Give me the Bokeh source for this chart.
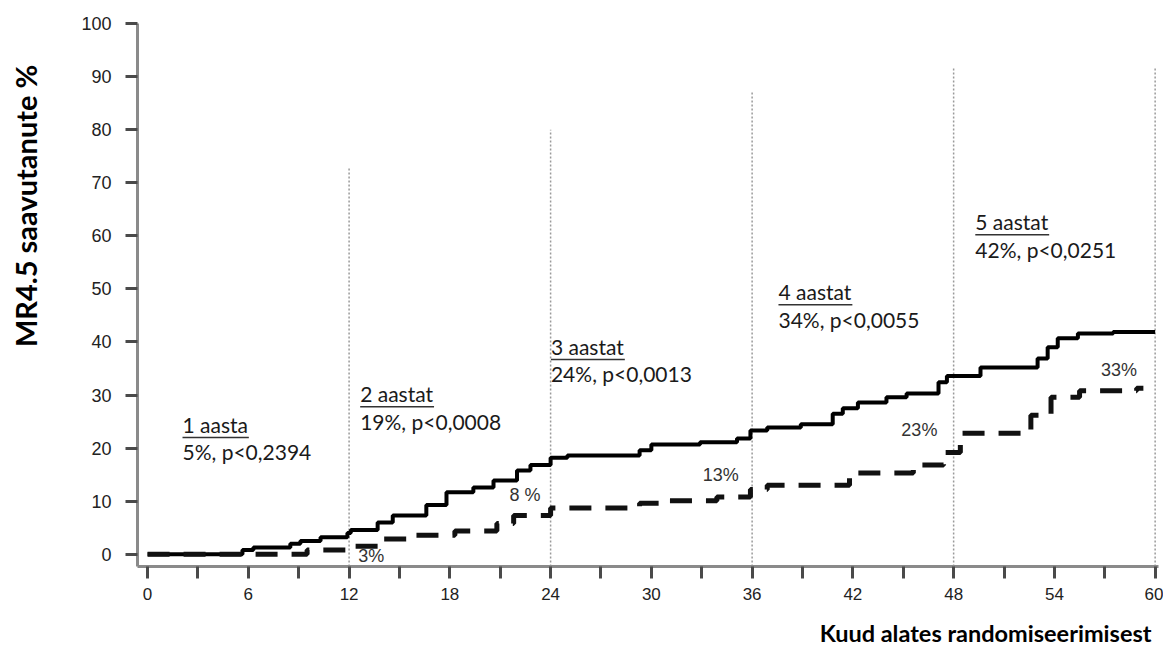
import math
from bokeh.plotting import figure
from bokeh.layouts import row
from bokeh.models import Range1d, FixedTicker, Label, ColumnDataSource, Title
from bokeh.core.properties import value
from bokeh.embed import file_html
from bokeh.resources import INLINE

# Cumulative MR4.5 response (%) by months since randomisation, step curves
solid_t = [0, 5.65, 6.3, 8.5, 9.1, 10.3, 11.9, 12.1, 13.7, 14.6, 16.6, 17.8, 19.4,
           20.6, 22.0, 22.8, 24.0, 25.0, 29.3, 30.0, 32.9, 35.1, 35.9, 36.9, 38.9,
           40.8, 41.4, 42.3, 44.0, 45.2, 47.1, 47.6, 49.6, 53.0, 53.6, 54.2, 55.4,
           57.5, 60.0]
solid_v = [0, 0.8, 1.3, 2.0, 2.5, 3.2, 4.0, 4.6, 6.0, 7.3, 9.3, 11.7, 12.6,
           13.9, 15.8, 16.8, 18.2, 18.6, 19.6, 20.7, 21.1, 21.8, 23.3, 23.9, 24.5,
           26.5, 27.5, 28.6, 29.6, 30.3, 32.4, 33.6, 35.2, 36.9, 39.0, 40.7, 41.6,
           41.9, 41.9]

dashed_t = [0, 9.5, 12.0, 13.8, 15.8, 18.3, 20.8, 21.8, 24.0, 29.3, 30.7, 33.9,
            35.9, 36.9, 41.8, 45.6, 47.4, 48.4, 52.6, 53.8, 55.5, 58.9, 59.3]
dashed_v = [0, 0.8, 1.5, 2.9, 3.6, 4.4, 5.8, 7.3, 8.7, 9.6, 10.1, 10.8,
            12.2, 13.0, 15.3, 16.8, 19.2, 22.8, 26.2, 29.6, 30.8, 31.3, 31.3]

# Yearly reference lines
year_marks = [12, 24, 36, 48, 60]
year_line_top = [73, 80, 87, 91.5, 91.5]

# Yearly summary boxes
year_titles = ["1 aasta", "2 aastat", "3 aastat", "4 aastat", "5 aastat"]
year_stats = ["5%, p<0,2394", "19%, p<0,0008", "24%, p<0,0013",
              "34%, p<0,0055", "42%, p<0,0251"]
year_text_x = [2.08, 12.66, 24.02, 37.57, 49.29]
year_text_y = [24.5, 30.3, 39.2, 49.5, 62.7]
underline_len = [3.95, 4.4, 4.4, 4.4, 4.4]

# Comparator values at each year
comp_labels = ["3%", "8 %", "13%", "23%", "33%"]
comp_x = [13.32, 22.47, 34.13, 45.96, 57.85]
comp_y = [-0.4, 11.1, 14.9, 23.4, 34.7]

x_ticks = list(range(0, 61, 3))
y_ticks = list(range(0, 101, 10))

TITLE_W = 50

# narrow strip holding the vertical y-axis title
yt = figure(width=TITLE_W, height=650, output_backend="svg", toolbar_location=None,
            x_range=Range1d(0, TITLE_W), y_range=Range1d(0, 650),
            x_axis_location=None, y_axis_location=None, min_border=0)
yt.outline_line_color = None
yt.grid.visible = False
yt.add_layout(Label(x=25, y=425, text="MR4.5 saavutanute %", angle=math.pi / 2,
                    text_font="Lato", text_font_style="bold", text_font_size="29px",
                    text_align="center", text_baseline="middle", text_color="black"))

p = figure(width=1163 - TITLE_W, height=666, output_backend="svg",
           toolbar_location=None,
           x_range=Range1d(-0.6, 60.2), y_range=Range1d(-2.3, 100),
           min_border_left=137 - TITLE_W, min_border_right=5, min_border_top=23,
           min_border_bottom=100)
p.outline_line_color = None
p.grid.visible = False
p.background_fill_color = "white"
p.border_fill_color = "white"

for ax in (p.xaxis[0], p.yaxis[0]):
    ax.axis_line_color = "#8a8a8a"
    ax.axis_line_width = 3
    ax.major_tick_line_color = "#4a4a4a"
    ax.major_tick_line_width = 3
    ax.major_tick_out = 12
    ax.major_tick_in = 0
    ax.minor_tick_line_color = None
    ax.major_label_text_font = "Liberation Sans"
    ax.major_label_text_color = "#222222"

p.xaxis.ticker = FixedTicker(ticks=x_ticks)
p.xaxis.major_label_overrides = {t: ("" if t % 6 else str(t)) for t in x_ticks}
p.xaxis.major_label_standoff = 9
p.xaxis.major_label_text_font_size = "17px"
p.yaxis.ticker = FixedTicker(ticks=y_ticks)
p.yaxis.major_label_standoff = 14
p.yaxis.major_label_text_font_size = "18px"

p.add_layout(Title(text="Kuud alates randomiseerimisest", align="right", offset=7,
                   standoff=29, text_font="Lato", text_font_style="bold",
                   text_font_size="23.5px", text_color="black"), "below")

# dotted yearly markers
p.segment(x0=year_marks, y0=[-2.3] * len(year_marks), x1=year_marks, y1=year_line_top,
          line_color="#9a9a9a", line_width=1.5, line_dash="2 2")

# curves
p.step(solid_t, solid_v, mode="after", line_color="black", line_width=4)
p.step(dashed_t, dashed_v, mode="after", line_color="#111111", line_width=5,
       line_dash="22 14")

# yearly summary text
for tx, ty, ttl, st in zip(year_text_x, year_text_y, year_titles, year_stats):
    p.add_layout(Label(x=tx, y=ty, text=ttl, text_font="Lato", text_font_size="21px",
                       text_color="#1a1a1a", text_baseline="middle"))
    p.add_layout(Label(x=tx, y=ty - 5.2, text=st, text_font="Lato",
                       text_font_size="21px", text_color="#1a1a1a",
                       text_baseline="middle"))
src_ul = ColumnDataSource(dict(x0=year_text_x,
                               x1=[a + b for a, b in zip(year_text_x, underline_len)],
                               y=[v - 2.5 for v in year_text_y]))
p.segment(x0="x0", y0="y", x1="x1", y1="y", source=src_ul, line_color="#333333",
          line_width=1.5)

p.text(x=comp_x, y=comp_y, text=comp_labels, text_font=value("Liberation Sans"),
       text_font_size="18px", text_color="#333333", text_align="center",
       text_baseline="middle")

layout = row(yt, p, spacing=0)
open("out.html", "w").write(file_html(layout, INLINE))
